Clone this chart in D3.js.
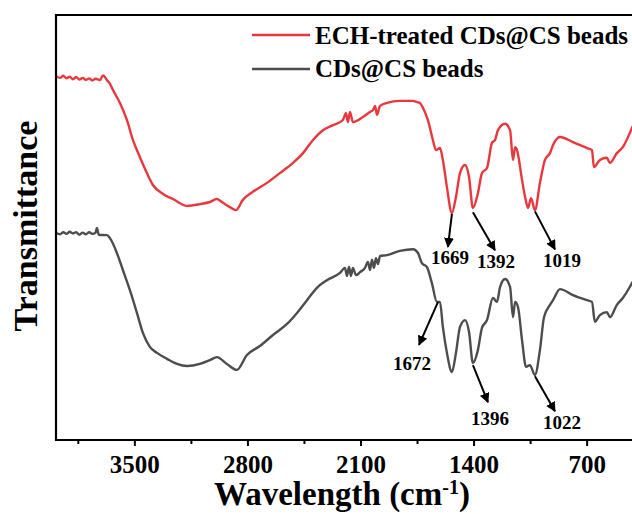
<!DOCTYPE html>
<html>
<head>
<meta charset="utf-8">
<script src="https://cdn.jsdelivr.net/npm/d3@7"></script>
<style>
  html, body { margin: 0; padding: 0; background: #fff; overflow: hidden; }
  svg { display: block; }
  text { font-family: "Liberation Serif", "Times New Roman", serif; font-weight: bold; fill: #000; }
</style>
</head>
<body>
<svg id="chart" width="632" height="514"></svg>
<script>
// ---------- data ----------
const seriesNames = ["ECH-treated CDs@CS beads", "CDs@CS beads"];
const seriesColors = ["#e8383d", "#4d4d4d"];

// wavenumber (cm-1)
const echWave = [3985,3960,3940,3920,3900,3880,3860,3840,3820,3800,3780,3760,3740,3713,3694,3670,3651,3633,3589,3546,3509,3466,3422,3385,3323,3261,3174,3094,3032,2989,2951,2908,2871,2828,2766,2679,2599,2518,2456,2394,2332,2270,2209,2190,2178,2165,2147,2085,2041,2023,2010,1998,1979,1936,1856,1775,1750,1732,1713,1683,1652,1633,1608,1590,1565,1534,1509,1484,1453,1428,1404,1373,1348,1317,1286,1267,1249,1205,1174,1156,1143,1131,1100,1081,1063,1044,1020,989,958,927,908,865,785,698,667,655,618,575,556,513,476,433,420,400];
// transmittance (a.u.)
const echT = [85.6,85.2,85.7,85.1,85.5,84.9,85.4,84.8,85.2,84.7,85.1,84.6,85.0,84.7,85.8,84.7,83.8,82.4,79.3,75.3,70.6,66.6,62.8,60.0,57.9,56.7,55.1,55.5,56.0,56.7,55.8,54.8,54.1,56.5,58.4,60.5,62.8,65.2,67.5,70.6,72.9,74.1,75.3,76.9,74.8,77.2,74.8,76.0,77.2,77.6,78.6,76.5,78.6,79.3,79.8,79.8,79.5,79.3,78.1,75.3,70.6,68.2,68.7,65.9,59.5,53.4,57.2,62.8,64.7,61.9,54.6,58.1,62.8,64.0,69.9,70.6,72.9,74.4,72.9,65.9,68.9,68.2,61.2,57.2,54.6,56.9,54.1,60.5,65.9,67.5,69.4,71.3,70.1,68.7,68.2,64.2,65.9,66.4,65.2,67.5,68.9,72.2,73.4,74.5];

const csWave = [3985,3960,3940,3920,3900,3880,3860,3840,3820,3800,3780,3760,3740,3732,3720,3670,3651,3608,3571,3528,3484,3447,3404,3360,3298,3236,3174,3094,3032,2989,2927,2865,2803,2723,2642,2555,2493,2431,2370,2308,2227,2196,2184,2171,2159,2147,2128,2103,2072,2054,2041,2029,2017,2004,1992,1979,1936,1856,1775,1744,1720,1689,1658,1627,1608,1590,1565,1534,1509,1484,1453,1428,1404,1373,1348,1317,1280,1255,1236,1205,1174,1156,1143,1125,1100,1075,1051,1020,989,964,927,908,865,785,698,667,649,618,575,556,513,476,433,420,400];
const csT = [48.7,48.4,48.9,48.5,49.0,48.6,48.9,48.3,48.8,48.4,48.9,48.5,48.8,49.9,48.3,48.2,47.5,44.0,40.0,35.3,29.9,25.2,21.9,20.5,19.1,17.9,17.4,17.9,18.8,19.5,17.9,16.5,20.0,22.1,24.7,27.3,29.9,32.9,35.8,37.6,39.3,40.5,38.6,40.7,38.6,40.5,38.8,39.5,40.5,41.9,40.0,42.4,40.5,42.8,41.4,43.3,43.5,44.5,44.9,44.0,41.6,40.7,36.9,32.5,32.5,26.6,20.5,16.0,20.5,26.6,28.2,25.4,18.1,21.2,26.4,28.2,33.4,32.5,36.0,37.9,36.0,28.9,32.5,31.3,23.5,17.2,17.6,15.3,21.2,28.9,31.8,32.9,35.5,34.1,32.9,32.5,27.8,29.4,30.1,28.9,31.8,33.4,36.0,36.9,38.0];

const xTicks = [3500, 2800, 2100, 1400, 700];
const xMinorTicks = [3850, 3150, 2450, 1750, 1050];

// annotations: label text, wavenumber and transmittance where the arrow starts
const annLabels = ["1669", "1392", "1019", "1672", "1396", "1022"];
const annWave = [1534, 1404, 1020, 1620, 1404, 1020];
const annT = [53.2, 53.6, 53.8, 32.5, 17.6, 15.0];

// ---------- layout ----------
const svg = d3.select("#chart");
const plotLeft = 56, plotTop = 15, plotBottom = 440, plotRight = 640;
const x = d3.scaleLinear().domain([3985, 400]).range([plotLeft, 635.1]);
const y = d3.scaleLinear().domain([0, 100]).range([plotBottom, plotTop]);

// annotation arrow offsets (px) and label positions relative to arrow start
const annDx = [-4, 22, 20, -19, 15, 20];
const annDy = [33, 38, 38, 43, 37, 35];
const annLx = [-2, 23, 27, -26, 17, 27];
const annLy = [50, 56, 56, 68, 60, 53];

// arrow marker
svg.append("defs").append("marker")
  .attr("id", "arrow").attr("viewBox", "0 0 10 10")
  .attr("refX", 9).attr("refY", 5)
  .attr("markerWidth", 5).attr("markerHeight", 5)
  .attr("markerUnits", "strokeWidth")
  .attr("orient", "auto")
  .append("path").attr("d", "M0,0 L10,5 L0,10 Z").attr("fill", "#000");

// curves
const line = d3.line().x(d => x(d[0])).y(d => y(d[1])).curve(d3.curveMonotoneX);
svg.append("clipPath").attr("id", "plotclip")
  .append("rect").attr("x", plotLeft).attr("y", plotTop)
  .attr("width", plotRight - plotLeft).attr("height", plotBottom - plotTop);

const datasets = [d3.zip(echWave, echT), d3.zip(csWave, csT)];
datasets.forEach((ds, i) => {
  svg.append("path").datum(ds)
    .attr("clip-path", "url(#plotclip)")
    .attr("d", line)
    .attr("fill", "none")
    .attr("stroke", seriesColors[i])
    .attr("stroke-width", 2.4)
    .attr("stroke-linejoin", "round");
});

// axes
const xAxis = d3.axisBottom(x).tickValues(xTicks).tickSize(6).tickFormat(d3.format("d"));
const gx = svg.append("g").attr("transform", `translate(0,${plotBottom})`).call(xAxis);
gx.select(".domain").remove();
gx.selectAll(".tick line").attr("stroke", "#000").attr("stroke-width", 2);
gx.selectAll(".tick text").attr("font-size", 25).attr("dy", null).attr("y", 33)
  .style("font-family", '"Liberation Serif", "Times New Roman", serif').style("font-weight", "bold");
const gxm = svg.append("g").attr("transform", `translate(0,${plotBottom})`)
  .call(d3.axisBottom(x).tickValues(xMinorTicks).tickSize(4).tickFormat(""));
gxm.select(".domain").remove();
gxm.selectAll(".tick line").attr("stroke", "#000").attr("stroke-width", 2);

// frame
svg.append("line").attr("x1", plotLeft).attr("x2", plotRight).attr("y1", plotBottom).attr("y2", plotBottom)
  .attr("stroke", "#000").attr("stroke-width", 2.2);
svg.append("line").attr("x1", plotLeft).attr("x2", plotRight).attr("y1", plotTop).attr("y2", plotTop)
  .attr("stroke", "#000").attr("stroke-width", 2.2);
svg.append("line").attr("x1", plotLeft).attr("x2", plotLeft).attr("y1", plotTop - 1).attr("y2", plotBottom + 1)
  .attr("stroke", "#000").attr("stroke-width", 2.2);

// axis titles
const xt = svg.append("text").attr("x", 342).attr("y", 505).attr("text-anchor", "middle").attr("font-size", 33);
xt.append("tspan").text("Wavelength (cm");
xt.append("tspan").text("-1").attr("font-size", 20).attr("dy", -11);
xt.append("tspan").text(")").attr("dy", 11);

svg.append("text").attr("transform", "translate(37,226) rotate(-90)")
  .attr("text-anchor", "middle").attr("font-size", 34).text("Transmittance");

// legend
const legY = [35, 69];
const legTextY = [44, 77];
seriesNames.forEach((name, i) => {
  svg.append("line").attr("x1", 252).attr("x2", 310).attr("y1", legY[i]).attr("y2", legY[i])
    .attr("stroke", seriesColors[i]).attr("stroke-width", 2.5);
  svg.append("text").attr("x", 315).attr("y", legTextY[i]).attr("font-size", 25).text(name);
});

// annotations
annLabels.forEach((lab, i) => {
  const sx = x(annWave[i]), sy = y(annT[i]);
  svg.append("line").attr("x1", sx).attr("y1", sy)
    .attr("x2", sx + annDx[i]).attr("y2", sy + annDy[i])
    .attr("stroke", "#000").attr("stroke-width", 2)
    .attr("marker-end", "url(#arrow)");
  svg.append("text").attr("x", sx + annLx[i]).attr("y", sy + annLy[i])
    .attr("text-anchor", "middle").attr("font-size", 19).text(lab);
});
</script>
</body>
</html>
